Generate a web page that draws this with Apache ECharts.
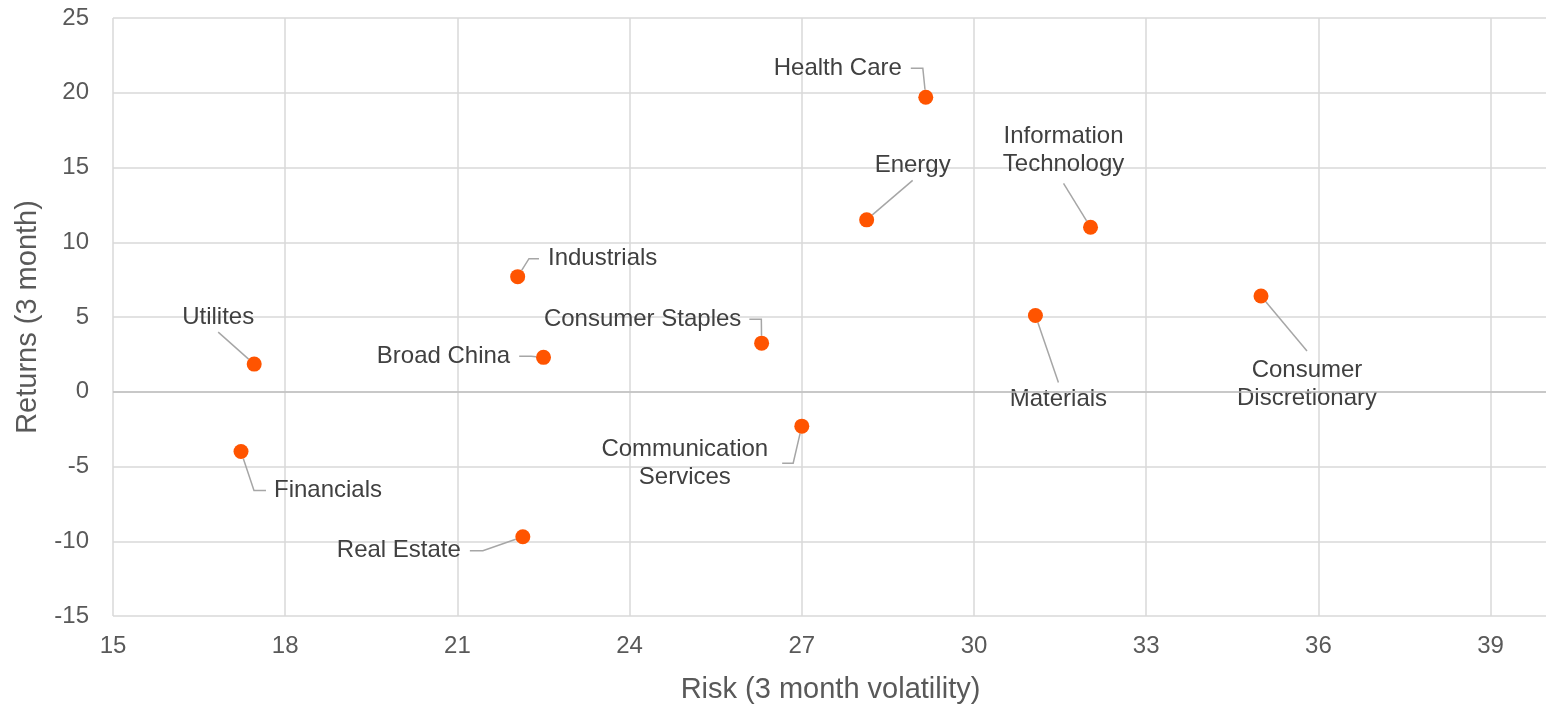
<!DOCTYPE html>
<html><head><meta charset="utf-8">
<script src="https://cdn.jsdelivr.net/npm/echarts@6/dist/echarts.min.js"></script>
<style>html,body{margin:0;padding:0;background:#fff}#c{width:1546px;height:705px}</style>
</head><body><div id="c"></div>
<script>
// ---- data ----
const sectors = ['Health Care', 'Information\nTechnology', 'Energy', 'Industrials', 'Utilites', 'Broad China',
  'Consumer Staples', 'Materials', 'Consumer\nDiscretionary', 'Communication\nServices', 'Financials', 'Real Estate'];
const risk = [29.16, 32.03, 28.13, 22.05, 17.46, 22.50, 26.30, 31.07, 35.00, 27.00, 17.23, 22.14];
const returns = [19.7, 11.0, 11.5, 7.7, 1.85, 2.3, 3.25, 5.1, 6.4, -2.3, -4.0, -9.7];
const xTicks = [15, 18, 21, 24, 27, 30, 33, 36, 39];
const yTicks = [-15, -10, -5, 0, 5, 10, 15, 20, 25];

// ---- label placement (px offset of text centre from its point) ----
const labelOffsets = [[-88, -29], [-27, -77], [46, -54], [85, -18], [-36, -47], [-100, -1],
  [-119, -24], [23, 84], [46, 88], [-117, 37], [87, 39], [-124, 14]];
// label padding [top, right, bottom, left] -> gap between text and leader line
const labelPads = [[0, 9, 0, 0], [0, 0, 10, 0], [0, 60, 1, 60], [0, 0, 0, 9], [0, 30, 2, 30], [0, 9, 0, 0],
  [0, 8, 0, 0], [6, 0, 0, 0], [10, 0, 0, 0], [0, 14, 0, 0], [0, 0, 0, 8], [0, 9, 0, 0]];
// horizontal elbow length of leader line
const leaderLen = [12, 0, 0, 10, 0, 12, 12, 0, 0, 11, 12, 13];

const FONT = "'Liberation Sans', Arial, sans-serif";
const chart = echarts.init(document.getElementById('c'), null, { renderer: 'canvas' });

const data = risk.map((x, i) => ({
  name: sectors[i],
  value: [x, returns[i]],
  label: { padding: labelPads[i] },
  labelLine: { length2: leaderLen[i] }
}));

chart.setOption({
  animation: false,
  textStyle: { fontFamily: FONT },
  grid: { left: 113, right: -2, top: 18, bottom: 89, containLabel: false, outerBoundsMode: 'none' },
  xAxis: {
    type: 'value', min: xTicks[0], max: 40, interval: 3,
    axisLine: { show: false }, axisTick: { show: false },
    splitLine: { show: true, lineStyle: { color: '#d9d9d9', width: 1.5 } },
    axisLabel: { fontSize: 24, color: '#595959', margin: 18, fontFamily: FONT,
      formatter: v => (xTicks.indexOf(v) >= 0 ? String(v) : '') },
    name: 'Risk (3 month volatility)', nameLocation: 'middle', nameGap: 59,
    nameTextStyle: { fontSize: 29, color: '#595959', fontFamily: FONT }
  },
  yAxis: {
    type: 'value', min: yTicks[0], max: yTicks[yTicks.length - 1], interval: 5,
    axisLine: { show: false }, axisTick: { show: false },
    splitLine: { show: true, lineStyle: { color: '#d9d9d9', width: 1.5 } },
    axisLabel: { fontSize: 24, color: '#595959', margin: 24, fontFamily: FONT },
    name: 'Returns (3 month)', nameLocation: 'middle', nameGap: 71,
    nameTextStyle: { fontSize: 29, color: '#595959', fontFamily: FONT }
  },
  series: [{
    type: 'scatter',
    symbol: 'circle',
    symbolSize: 15,
    itemStyle: { color: '#FF5400', opacity: 1 },
    data: data,
    label: {
      show: true, formatter: '{b}', position: 'inside',
      fontSize: 24, lineHeight: 28, color: '#404040', fontFamily: FONT
    },
    labelLine: { show: true, lineStyle: { color: '#a6a6a6', width: 1.5 } },
    labelLayout: function (params) {
      const i = params.dataIndex;
      const r = params.rect;
      const p = labelPads[i];
      // horizontal padding shifts the centred box; compensate so the text lands on its offset
      const sx = (p[1] - p[3]) / 2;
      return {
        x: r.x + r.width / 2 + labelOffsets[i][0] + sx,
        y: r.y + r.height / 2 + labelOffsets[i][1],
        align: 'center', verticalAlign: 'middle'
      };
    },
    markLine: {
      silent: true, symbol: 'none', label: { show: false },
      lineStyle: { color: '#bfbfbf', width: 1.5, type: 'solid' },
      data: [{ yAxis: 0 }]
    },
    z: 3
  }]
});
</script>
</body></html>
